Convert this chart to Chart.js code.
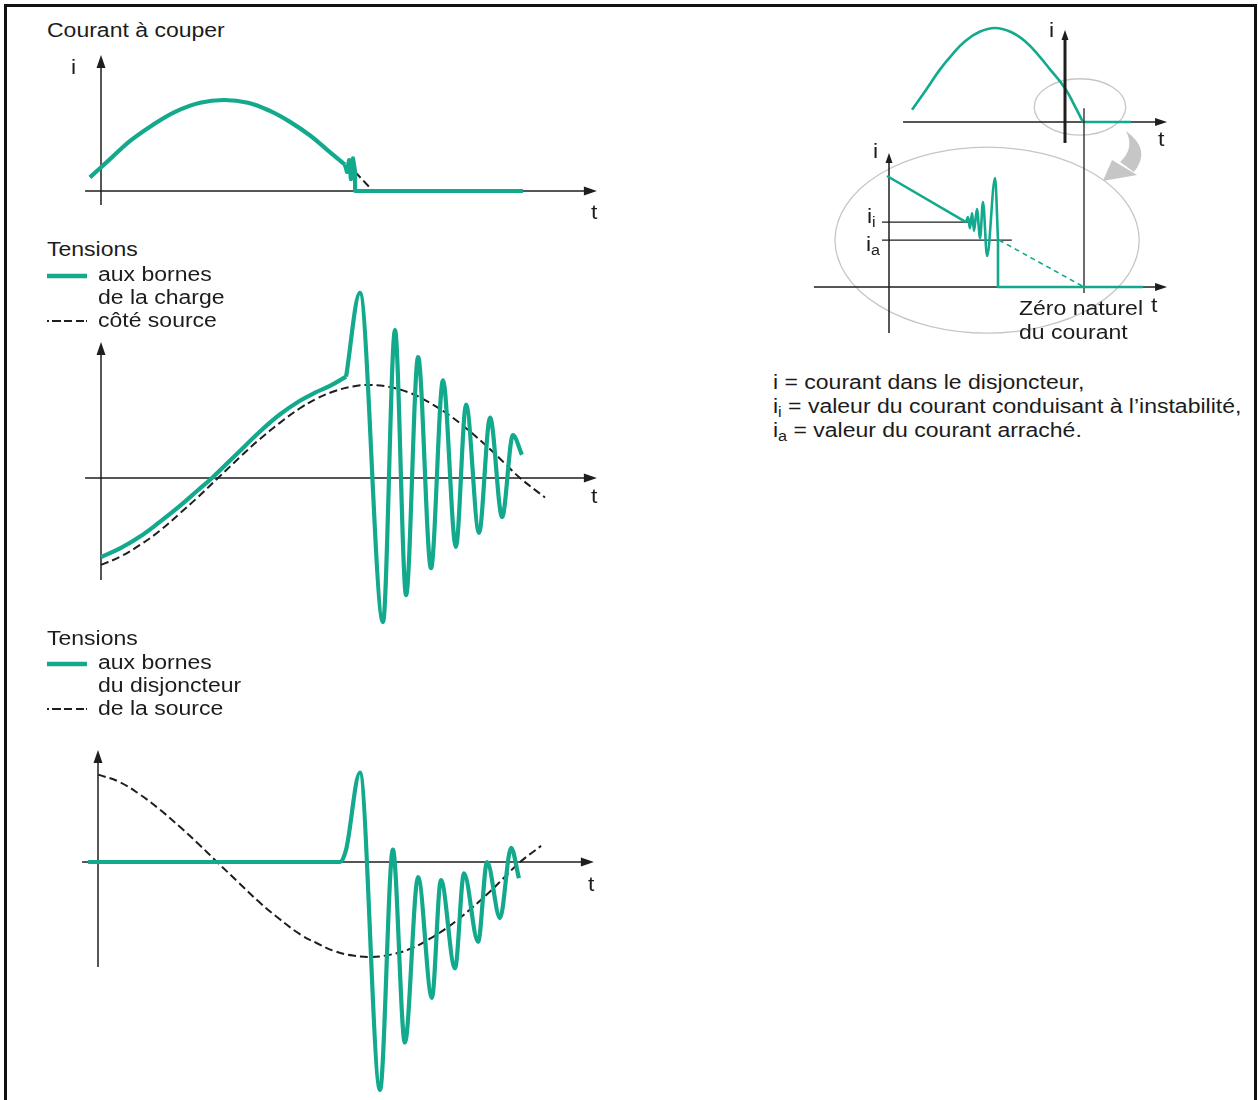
<!DOCTYPE html>
<html lang="fr">
<head>
<meta charset="utf-8">
<script src="https://cdn.jsdelivr.net/npm/chart.js@4.4.1/dist/chart.umd.min.js"></script>
<style>
  html, body { margin:0; padding:0; background:#fff; }
  body { width:1258px; height:1100px; position:relative; overflow:hidden;
         font-family:"Liberation Sans", Arial, Helvetica, sans-serif; color:#1c1c1c; }
  .frame { position:absolute; left:4px; top:4px; width:1253px; height:1300px;
           border:3px solid #111; box-sizing:border-box; }
  .lbl { position:absolute; font-size:20px; line-height:20px; white-space:nowrap;
         transform:scaleX(1.15); transform-origin:0 50%; }
  .lbl sub { font-size:14px; vertical-align:-4px; line-height:0; }
  canvas { position:absolute; }
  svg { position:absolute; overflow:visible; }
</style>
</head>
<body>
<div class="frame"></div>
<script>
// ================= DATA (t en ms, grandeurs en p.u.) =================
// Panneau 1 : courant à couper
const courantT      = [-0.37, 0.30, 0.97, 1.70, 2.47, 3.30, 4.10, 4.90, 5.63, 6.30, 6.97, 7.55, 8.13];
const courantI      = [ 0.15, 0.35, 0.55, 0.72, 0.87, 0.97, 1.00, 0.97, 0.88, 0.76, 0.61, 0.45, 0.29];
const arrachementT  = [8.13, 8.20, 8.27, 8.33, 8.40, 8.47, 8.47, 14.07];
const arrachementI  = [0.29, 0.21, 0.34, 0.13, 0.36, 0.21, 0.00, 0.00];
const prolongT      = [8.47, 9.07];
const prolongI      = [0.21, 0.00];

// Panneau 2 : tensions aux bornes de la charge / côté source
const sourceChargeT = [0, 0.65, 1.30, 1.95, 2.63, 3.20, 3.90, 4.60, 5.30, 5.95, 6.63, 7.20, 7.80, 8.40,
                       8.97, 9.60, 10.30, 10.95, 11.63, 12.30, 12.97, 13.45, 13.97, 14.80];
const sourceChargeV = [-0.935, -0.845, -0.72, -0.57, -0.38, -0.215, 0, 0.215, 0.42, 0.59, 0.75, 0.855,
                       0.935, 0.985, 1.00, 0.98, 0.915, 0.81, 0.67, 0.50, 0.31, 0.16, 0, -0.21];
const chargeMonteeT = [0, 0.65, 1.30, 1.95, 2.63, 3.20, 3.70, 4.50, 5.30, 5.95, 6.63, 7.15, 7.63, 8.17];
const chargeMonteeV = [-0.85, -0.755, -0.63, -0.475, -0.30, -0.14, 0, 0.25, 0.50, 0.68, 0.83, 0.92, 0.99, 1.09];
const chargeOscT = [8.17, 8.63, 9.40, 9.80, 10.17, 10.57, 11.00, 11.40, 11.83, 12.17, 12.60, 12.97,
                    13.37, 13.73, 14.03];
const chargeOscV = [1.09, 1.99, -1.55, 1.59, -1.26, 1.30, -0.97, 1.05, -0.74, 0.79, -0.59, 0.65,
                    -0.42, 0.46, 0.25];

// Panneau 3 : tensions aux bornes du disjoncteur / de la source
const sourceT = [0, 0.70, 1.40, 2.05, 2.73, 3.35, 3.97, 4.70, 5.40, 6.05, 6.73, 7.30, 7.90, 8.50, 9.07,
                 9.75, 10.40, 11.05, 11.73, 12.40, 13.07, 13.55, 14.07, 14.77];
const sourceV = [0.92, 0.845, 0.71, 0.555, 0.37, 0.19, 0, -0.22, -0.43, -0.60, -0.76, -0.855, -0.94,
                 -0.985, -1.00, -0.975, -0.915, -0.81, -0.67, -0.50, -0.31, -0.16, 0, 0.17];
const disjT = [-0.33, 8.07, 8.27, 8.73, 9.40, 9.83, 10.23, 10.67, 11.13, 11.43, 11.90, 12.20, 12.67,
               12.97, 13.40, 13.77, 14.03];
const disjV = [0, 0, 0.13, 0.94, -2.40, 0.13, -1.90, -0.16, -1.43, -0.19, -1.12, -0.12, -0.84,
               0, -0.59, 0.15, -0.17];

// Encart haut : alternance de courant
const arcT  = [-8.69, -7.90, -7.10, -6.40, -5.68, -4.85, -3.98, -3.10, -2.27, -1.55, -0.85, 0, 0.50, 1.02];
const arcI  = [ 0.13,  0.34,  0.56,  0.72,  0.86,  0.96,  1.00,  0.96,  0.86,  0.72,  0.56, 0.36, 0.19, 0];
const arcZeroT = [1.02, 3.75];
const arcZeroI = [0, 0];

// Encart bas : agrandissement de l'arrachement
const rampeT = [-0.10, 3.95];
const rampeI = [ 1.00, 0.585];
const instabT = [3.95, 4.05, 4.15, 4.26, 4.36, 4.51, 4.67, 4.82, 5.03, 5.44, 5.59];
const instabI = [0.585, 0.63, 0.53, 0.667, 0.505, 0.703, 0.441, 0.766, 0.279, 0.982, 0.423];
const coupureT = [5.59, 5.59, 13.03];
const coupureI = [0.423, 0, 0];
const naturelT = [5.64, 10.0];
const naturelI = [0.423, 0];
const I_INSTAB = 0.585;   // i_i
const I_ARRACHE = 0.423;  // i_a
const T_ZERO_NATUREL = 10.0;

// ================= STYLE =================
const TEAL = '#12a98c';
const INK = '#1e1e1e';
const GREY = '#c6c6c6';

function series(T, V, style) {
  return Object.assign({
    data: T.map((t, k) => ({ x: t, y: V[k] })),
    pointRadius: 0, fill: false, clip: false,
    borderCapStyle: 'butt', borderJoinStyle: 'round'
  }, style);
}
// shape: 'smooth' (bezier), 'mono' (monotone cubic), 'straight'
function curve(shape) {
  if (shape === 'smooth') return { tension: 0.4 };
  if (shape === 'mono') return { cubicInterpolationMode: 'monotone' };
  return { tension: 0 };
}
const tealThick = (shape) => Object.assign({ borderColor: TEAL, borderWidth: 4.2 }, curve(shape));
const tealThin = (shape) => Object.assign({ borderColor: TEAL, borderWidth: 2.6 }, curve(shape));
const dashed = (shape) => Object.assign({ borderColor: INK, borderWidth: 2, borderDash: [8, 4] }, curve(shape));

// ================= drawing kit (axes, ellipses, repères) =================
function arrowHead(ctx, x, y, dir, len, half) {
  ctx.beginPath();
  if (dir === 'right') { ctx.moveTo(x, y); ctx.lineTo(x - len, y - half); ctx.lineTo(x - len, y + half); }
  else { ctx.moveTo(x, y); ctx.lineTo(x - half, y + len); ctx.lineTo(x + half, y + len); }
  ctx.closePath(); ctx.fill();
}
function kit(under, over) {
  function draw(chart, items) {
    const ctx = chart.ctx, X = chart.scales.x, Y = chart.scales.y;
    const px = v => X.getPixelForValue(v), py = v => Y.getPixelForValue(v);
    ctx.save();
    for (const it of items) {
      ctx.setLineDash([]);
      if (it.type === 'hAxis') {
        ctx.strokeStyle = INK; ctx.fillStyle = INK; ctx.lineWidth = it.w || 1.5;
        const y = py(0), x2 = px(it.to);
        ctx.beginPath(); ctx.moveTo(px(it.from), y); ctx.lineTo(x2 - 6, y); ctx.stroke();
        arrowHead(ctx, x2, y, 'right', it.len || 13, it.half || 4.5);
      } else if (it.type === 'vAxis') {
        ctx.strokeStyle = INK; ctx.fillStyle = INK; ctx.lineWidth = it.w || 1.5;
        const x = px(0), y2 = py(it.to);
        ctx.beginPath(); ctx.moveTo(x, py(it.from)); ctx.lineTo(x, y2 + 6); ctx.stroke();
        arrowHead(ctx, x, y2, 'up', it.len || 13, it.half || 4.5);
      } else if (it.type === 'ellipse') {
        ctx.strokeStyle = GREY; ctx.lineWidth = 1.3;
        const cx = px(it.cx), cy = py(it.cy);
        ctx.beginPath();
        ctx.ellipse(cx, cy, Math.abs(px(it.cx + it.rx) - cx), Math.abs(py(it.cy + it.ry) - cy), 0, 0, Math.PI * 2);
        ctx.stroke();
      } else if (it.type === 'hline') {
        ctx.strokeStyle = INK; ctx.lineWidth = 1.3;
        ctx.beginPath(); ctx.moveTo(px(it.from), py(it.y)); ctx.lineTo(px(it.to), py(it.y)); ctx.stroke();
      } else if (it.type === 'vline') {
        ctx.strokeStyle = INK; ctx.lineWidth = 1.3;
        ctx.beginPath(); ctx.moveTo(px(it.x), py(it.from)); ctx.lineTo(px(it.x), py(it.to)); ctx.stroke();
      } else if (it.type === 'bend') {
        const P = p => [px(p[0]), py(p[1])];
        const a = P(it.a), c1 = P(it.c1), b = P(it.b), d = P(it.d), c2 = P(it.c2);
        ctx.fillStyle = GREY;
        ctx.beginPath(); ctx.moveTo(a[0], a[1]);
        ctx.quadraticCurveTo(c1[0], c1[1], b[0], b[1]);
        ctx.lineTo(d[0], d[1]);
        ctx.quadraticCurveTo(c2[0], c2[1], a[0], a[1]);
        ctx.closePath(); ctx.fill();
        const h1 = P(it.h1), h2 = P(it.h2), h3 = P(it.h3);
        ctx.beginPath(); ctx.moveTo(h1[0], h1[1]); ctx.lineTo(h2[0], h2[1]); ctx.lineTo(h3[0], h3[1]);
        ctx.closePath(); ctx.fill();
      }
    }
    ctx.restore();
  }
  return {
    id: 'kit',
    beforeDatasetsDraw(chart) { draw(chart, under); },
    afterDatasetsDraw(chart) { draw(chart, over); }
  };
}

function panel(box, origin, scale, datasets, under, over) {
  const cv = document.createElement('canvas');
  cv.width = box.w; cv.height = box.h;
  cv.style.left = box.x + 'px'; cv.style.top = box.y + 'px';
  document.body.appendChild(cv);
  const xMin = (box.x - origin.x) / scale.x, xMax = (box.x + box.w - origin.x) / scale.x;
  const yMax = (origin.y - box.y) / scale.y, yMin = (origin.y - box.y - box.h) / scale.y;
  new Chart(cv, {
    type: 'line',
    data: { datasets },
    options: {
      responsive: false, animation: false, events: [],
      layout: { padding: 0 },
      plugins: { legend: { display: false }, tooltip: { enabled: false }, title: { display: false } },
      scales: {
        x: { type: 'linear', min: xMin, max: xMax, display: false },
        y: { type: 'linear', min: yMin, max: yMax, display: false }
      }
    },
    plugins: [kit(under || [], over || [])]
  });
}

function label(html, x, yc, extra) {
  const d = document.createElement('div');
  d.className = 'lbl'; d.innerHTML = html;
  d.style.left = x + 'px'; d.style.top = (yc - 11) + 'px';
  if (extra) Object.assign(d.style, extra);
  document.body.appendChild(d);
}
function legendMark(x, y, kind) {
  const ns = 'http://www.w3.org/2000/svg';
  const s = document.createElementNS(ns, 'svg');
  s.setAttribute('width', 44); s.setAttribute('height', 8);
  s.style.left = x + 'px'; s.style.top = (y - 4) + 'px';
  const l = document.createElementNS(ns, 'line');
  l.setAttribute('x1', 0); l.setAttribute('x2', 40); l.setAttribute('y1', 4); l.setAttribute('y2', 4);
  if (kind === 'teal') { l.setAttribute('stroke', TEAL); l.setAttribute('stroke-width', 4.5); }
  else { l.setAttribute('stroke', INK); l.setAttribute('stroke-width', 2); l.setAttribute('stroke-dasharray', '2 3 9 3 8 4 8'); }
  s.appendChild(l); document.body.appendChild(s);
}

// ================= Panneau 1 =================
panel({ x: 60, y: 45, w: 560, h: 175 }, { x: 101, y: 191 }, { x: 30, y: 91 }, [
  series(arrachementT, arrachementI, tealThick('straight')),
  series(courantT, courantI, tealThick('smooth')),
  series(prolongT, prolongI, dashed('straight'))
], [
  { type: 'hAxis', from: -0.53, to: 16.53 },
  { type: 'vAxis', from: -0.154, to: 1.495 }
]);

// ================= Panneau 2 =================
panel({ x: 60, y: 280, w: 560, h: 355 }, { x: 101, y: 478 }, { x: 30, y: 93 }, [
  series(chargeOscT, chargeOscV, tealThick('mono')),
  series(chargeMonteeT, chargeMonteeV, tealThick('smooth')),
  series(sourceChargeT, sourceChargeV, dashed('smooth'))
], [
  { type: 'hAxis', from: -0.53, to: 16.53 },
  { type: 'vAxis', from: -1.097, to: 1.462 }
]);

// ================= Panneau 3 =================
panel({ x: 60, y: 740, w: 560, h: 360 }, { x: 98, y: 862 }, { x: 30, y: 95 }, [
  series(disjT, disjV, tealThick('mono')),
  series(sourceT, sourceV, dashed('smooth'))
], [
  { type: 'hAxis', from: -0.53, to: 16.53 },
  { type: 'vAxis', from: -1.105, to: 1.179 }
]);

// ================= Encart haut =================
panel({ x: 890, y: 18, w: 300, h: 135 }, { x: 1065, y: 122 }, { x: 17.6, y: 94 }, [
  series(arcZeroT, arcZeroI, tealThin('straight')),
  series(arcT, arcI, tealThin('smooth'))
], [
  { type: 'ellipse', cx: 0.85, cy: 0.16, rx: 2.6, ry: 0.30 },
  { type: 'hAxis', from: -9.2, to: 5.8, len: 12, half: 4 }
], [
  { type: 'vAxis', from: -0.223, to: 0.979, w: 3, len: 10, half: 3.5 }
]);

// ================= Encart bas =================
panel({ x: 800, y: 100, w: 380, h: 245 }, { x: 889, y: 287 }, { x: 19.5, y: 111 }, [
  series(coupureT, coupureI, tealThin('straight')),
  series(instabT, instabI, tealThin('mono')),
  series(rampeT, rampeI, tealThin('straight')),
  series(naturelT, naturelI, { borderColor: TEAL, borderWidth: 1.6, borderDash: [5, 4], tension: 0 })
], [
  { type: 'ellipse', cx: 5.03, cy: 0.423, rx: 7.8, ry: 0.838 },
  { type: 'bend', a: [12.15, 1.405], c1: [13.49, 1.234], b: [12.56, 1.036], d: [11.85, 1.126], c2: [12.62, 1.252],
    h1: [12.72, 1.009], h2: [10.97, 0.955], h3: [11.44, 1.144] },
  { type: 'hAxis', from: -3.85, to: 14.26, len: 12, half: 4 },
  { type: 'vAxis', from: -0.414, to: 1.207, len: 10, half: 3.5 },
  { type: 'hline', y: I_INSTAB, from: -0.36, to: 4.05 },
  { type: 'hline', y: I_ARRACHE, from: -0.36, to: 6.3 },
  { type: 'vline', x: T_ZERO_NATUREL, from: -0.054, to: 1.61 }
]);

// ================= Textes =================
label('Courant à couper', 47, 31);
label('i', 71, 68);
label('t', 591, 213);

label('Tensions', 47, 250);
legendMark(47, 276, 'teal');
label('aux bornes', 98, 275);
label('de la charge', 98, 298);
legendMark(47, 321, 'dash');
label('côté source', 98, 321);
label('t', 591, 497);

label('Tensions', 47, 639);
legendMark(47, 664, 'teal');
label('aux bornes', 98, 663);
label('du disjoncteur', 98, 686);
legendMark(47, 709, 'dash');
label('de la source', 98, 709);
label('t', 588, 885);

label('i', 1049, 31);
label('t', 1158, 140);
label('i', 873, 152);
label('t', 1151, 306);
label('i<sub>i</sub>', 867, 217);
label('i<sub>a</sub>', 866, 245);
label('Zéro naturel', 1019, 309);
label('du courant', 1019, 333);

label('i = courant dans le disjoncteur,', 773, 383);
label('i<sub>i</sub> = valeur du courant conduisant à l’instabilité,', 773, 407);
label('i<sub>a</sub> = valeur du courant arraché.', 773, 431);
</script>
</body>
</html>
